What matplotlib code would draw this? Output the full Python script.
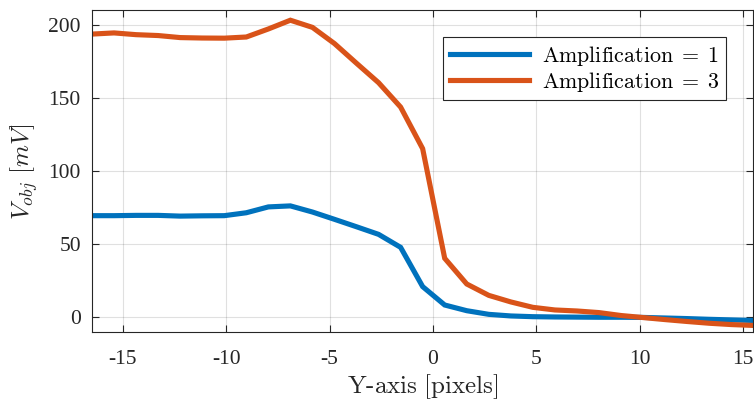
import matplotlib
matplotlib.use("Agg")
import matplotlib.pyplot as plt

plt.rcParams['mathtext.fontset'] = 'cm'

x_px = [-16.5, -15.433, -14.367, -13.3, -12.233, -11.167, -10.1, -9.033, -7.967, -6.9,
        -5.833, -4.767, -3.7, -2.633, -1.567, -0.5, 0.567, 1.633, 2.7, 3.767,
        4.833, 5.9, 6.967, 8.033, 9.1, 10.167, 11.233, 12.3, 13.367, 14.433, 15.5]

amp1 = [69.6, 69.6, 69.8, 69.8, 69.3, 69.5, 69.6, 71.6, 75.6, 76.3,
        72.1, 67.1, 62.0, 56.8, 47.9, 21.0, 8.4, 4.5, 2.0, 0.9,
        0.4, 0.2, 0.1, 0.0, 0.0, -0.1, -0.5, -0.9, -1.4, -1.8, -2.2]

amp3 = [194.0, 194.8, 193.6, 193.0, 191.6, 191.3, 191.2, 192.0, 197.5, 203.5,
        198.6, 187.5, 174.0, 160.7, 144.0, 115.5, 40.4, 22.8, 15.0, 10.5,
        6.8, 5.0, 4.3, 3.2, 1.2, -0.2, -1.6, -2.9, -4.1, -5.0, -5.6]

labels = [r'$\mathrm{Amplification}\;=\;1$', r'$\mathrm{Amplification}\;=\;3$']
colors = ['#0072BD', '#D95319']

fig = plt.figure(figsize=(7.54, 4.01), dpi=100)
ax = fig.add_axes([92/754, (401-332.3)/401, (753.3-92)/754, (332.3-10)/401])

ax.plot(x_px, amp1, color=colors[0], lw=3.7, label=labels[0], solid_joinstyle='miter')
ax.plot(x_px, amp3, color=colors[1], lw=3.7, label=labels[1], solid_joinstyle='miter')

ax.set_xlim(-16.5, 15.5)
ax.set_ylim(-10.3, 210.5)
ax.set_xticks([-15, -10, -5, 0, 5, 10, 15])
ax.set_xticklabels(['-15', '-10', '-5', '0', '5', '10', '15'])
ax.set_yticks([0, 50, 100, 150, 200])

ax.grid(True, color='#000000', alpha=0.12, lw=0.8)
ax.set_axisbelow(True)
ax.tick_params(direction='in', top=True, right=True, length=5, width=0.8,
               colors='#262626', labelsize=15.5)
ax.tick_params(axis='x', pad=13)
ax.tick_params(axis='y', pad=8)
for lab in ax.get_xticklabels() + ax.get_yticklabels():
    lab.set_fontfamily('Liberation Serif')
for s in ax.spines.values():
    s.set_color('#262626')
    s.set_linewidth(0.8)

ax.set_xlabel(r'$\mathrm{Y}$' + '-' + r'$\mathrm{axis\ [pixels]}$', fontsize=18, color='#262626',
              family='cmr10', labelpad=2)
ax.set_ylabel(r'$V_{obj}\ [mV]$', fontsize=18, color='#262626', labelpad=6)

leg = ax.legend(loc='upper right', bbox_to_anchor=(0.9587, 0.916), fontsize=15.8,
                frameon=True, fancybox=False, edgecolor='#262626', framealpha=1,
                handlelength=3.6, handletextpad=0.6, borderpad=0.3, labelspacing=0.1,
                borderaxespad=0)
leg.get_frame().set_linewidth(0.8)

fig.savefig('out.png', dpi=100)
